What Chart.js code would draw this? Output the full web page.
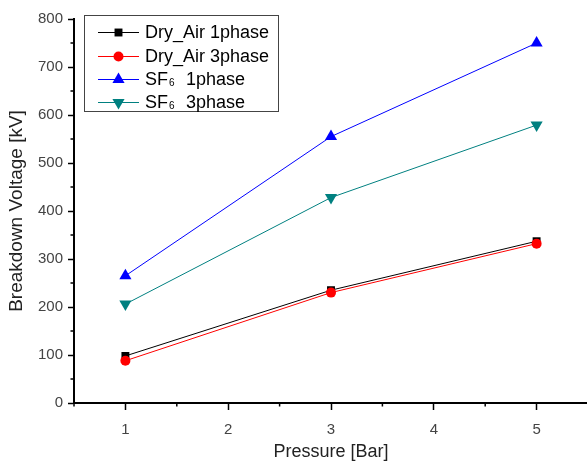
<!DOCTYPE html>
<html><head><meta charset="utf-8">
<script src="https://cdn.jsdelivr.net/npm/chart.js@4/dist/chart.umd.min.js"></script>
<style>html,body{margin:0;padding:0;background:#fff;overflow:hidden}#wrap{width:587px;height:463px}</style>
</head><body><div id="wrap"><canvas id="c"></canvas></div>
<script>
const pressure = [1, 3, 5];
const dryAir1 = [98, 235, 337];
const dryAir3 = [88, 230, 332];
const sf6_1 = [265, 555, 750];
const sf6_3 = [206, 428, 579];
const seriesNames = ['Dry_Air 1phase', 'Dry_Air 3phase', 'SF6 1phase', 'SF6 3phase'];
const xTitle = 'Pressure [Bar]';
const yTitle = 'Breakdown Voltage [kV]';

const FONT = "'Liberation Sans', Arial, sans-serif";
const pts = (ys) => pressure.map((x, i) => ({x, y: ys[i]}));

const styles = [
  {color:'#000000', style:'rect', r:5.6, rot:0, order:2},
  {color:'#ff0000', style:'circle', r:5, rot:0, order:1},
  {color:'#0000ff', style:'triangle', r:7, rot:0, order:3},
  {color:'#008080', style:'triangle', r:7, rot:180, order:3}
];
const values = [dryAir1, dryAir3, sf6_1, sf6_3];

const datasets = values.map((v, i) => ({
  label: seriesNames[i],
  data: pts(v),
  borderColor: styles[i].color,
  backgroundColor: styles[i].color,
  borderWidth: 1,
  pointStyle: styles[i].style,
  pointRadius: styles[i].r,
  pointRotation: styles[i].rot,
  pointBorderWidth: 0,
  pointBackgroundColor: styles[i].color,
  order: styles[i].order,
  tension: 0
}));

const stretchX = {
  id: 'stretchX',
  afterLayout(chart) {
    const xs = chart.scales.x;
    const R = 588;
    xs.right = R;
    xs.width = R - xs.left;
    chart.chartArea.right = R;
    chart.chartArea.width = R - chart.chartArea.left;
    xs.configure();
  }
};

const minorTicks = {
  id: 'minorTicks',
  afterDraw(chart) {
    const ctx = chart.ctx;
    const xs = chart.scales.x, ys = chart.scales.y;
    ctx.save();
    ctx.strokeStyle = '#000';
    ctx.lineWidth = 1.5;
    ctx.beginPath();
    xs.ticks.forEach(t => {
      if (Math.abs(t.value - Math.round(t.value)) > 1e-6) {
        const px = xs.getPixelForValue(t.value);
        ctx.moveTo(px, xs.top); ctx.lineTo(px, xs.top + 3.5);
      }
    });
    ys.ticks.forEach(t => {
      if (t.value % 100 !== 0) {
        const py = ys.getPixelForValue(t.value);
        ctx.moveTo(ys.right, py); ctx.lineTo(ys.right - 3.5, py);
      }
    });
    ctx.stroke();
    ctx.restore();
  }
};

const legendBox = {
  id: 'legendBox',
  afterDatasetsDraw(chart) {
    const ctx = chart.ctx;
    ctx.save();
    ctx.fillStyle = '#fff';
    ctx.fillRect(84.5, 15.5, 194, 96);
    ctx.strokeStyle = '#444';
    ctx.lineWidth = 1;
    ctx.strokeRect(84.5, 15.5, 194, 96);
    const rows = [32, 56, 79, 102];
    rows.forEach((y, i) => {
      const s = styles[i];
      ctx.strokeStyle = s.color;
      ctx.lineWidth = 1;
      ctx.beginPath(); ctx.moveTo(98, y + 0.5); ctx.lineTo(139, y + 0.5); ctx.stroke();
      ctx.fillStyle = s.color;
      Chart.helpers.drawPoint(ctx, {pointStyle: s.style, radius: s.r, rotation: s.rot, borderWidth: 0}, 118.5, y + 0.5);
      ctx.fillStyle = '#000';
      ctx.textBaseline = 'middle';
      ctx.textAlign = 'left';
      ctx.font = '18px ' + FONT;
      const name = seriesNames[i];
      if (name.startsWith('SF6')) {
        ctx.fillText('SF', 145, y + 1);
        const w = ctx.measureText('SF').width;
        ctx.font = '10px ' + FONT;
        ctx.fillText('6', 145 + w + 1, y + 4);
        ctx.font = '18px ' + FONT;
        ctx.fillText(name.slice(4), 186, y + 1);
      } else {
        ctx.fillText(name, 145, y + 1);
      }
    });
    ctx.restore();
  }
};

new Chart(document.getElementById('c'), {
  type: 'line',
  data: { datasets },
  options: {
    responsive: true,
    maintainAspectRatio: false,
    animation: false,
    events: [],
    layout: { padding: { top: 19, right: 0, left: 0, bottom: 0 } },
    plugins: { legend: { display: false }, tooltip: { enabled: false } },
    scales: {
      x: {
        type: 'linear',
        min: 0.5, max: 5.5,
        afterFit(s) { s.height = 60; s.paddingRight = 0; s.paddingLeft = 0; },
        border: { display: true, color: '#000', width: 2 },
        grid: { drawOnChartArea: false, drawTicks: true, tickLength: 7,
          tickWidth: 1.5,
          tickColor: (c) => (c.tick && Math.abs(c.tick.value - Math.round(c.tick.value)) < 1e-6 && c.tick.value >= 1 && c.tick.value <= 5) ? '#000' : 'rgba(0,0,0,0)' },
        ticks: {
          stepSize: 0.5,
          padding: 11,
          color: '#444',
          font: { family: FONT, size: 15 },
          maxRotation: 0,
          autoSkip: false,
          callback: (v) => (Math.abs(v - Math.round(v)) < 1e-6 && v >= 1 && v <= 5) ? String(Math.round(v)) : ''
        },
        title: { display: true, text: xTitle, color: '#222', font: { family: FONT, size: 18 }, padding: { top: 0, bottom: 0 } }
      },
      y: {
        min: 0, max: 800,
        afterFit(s) { s.width = 74; },
        border: { display: true, color: '#000', width: 2 },
        grid: { drawOnChartArea: false, drawTicks: true, tickLength: 6, tickWidth: 1.5,
          tickColor: (c) => (c.tick && c.tick.value % 100 === 0) ? '#000' : 'rgba(0,0,0,0)' },
        ticks: {
          stepSize: 50,
          padding: 5,
          color: '#444',
          font: { family: FONT, size: 15 },
          autoSkip: false,
          callback: (v) => v % 100 === 0 ? String(v) : ''
        },
        title: { display: true, text: yTitle, color: '#222', font: { family: FONT, size: 19 }, padding: { top: 5, bottom: 0 } }
      }
    }
  },
  plugins: [stretchX, minorTicks, legendBox]
});
</script>
</body></html>
